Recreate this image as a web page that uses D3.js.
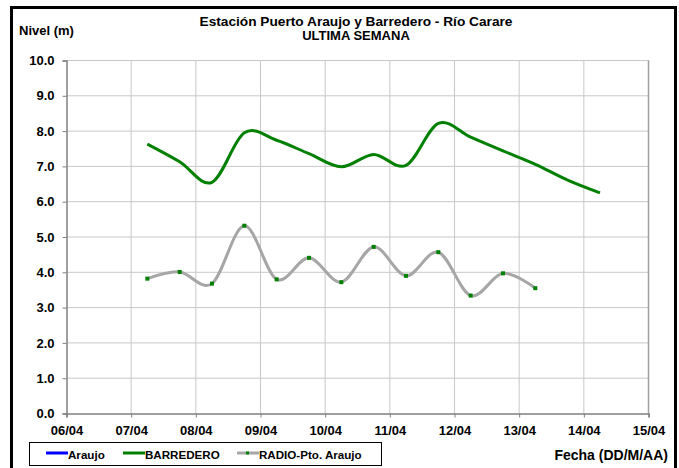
<!DOCTYPE html>
<html><head><meta charset="utf-8">
<script src="https://cdn.jsdelivr.net/npm/d3@7"></script>
<style>body{margin:0;background:#fff}svg{display:block}text{font-family:"Liberation Sans",Arial,sans-serif;font-weight:bold;fill:#000}</style>
</head><body>
<script>
const title1 = "Estación Puerto Araujo y Barredero - Río Carare";
const title2 = "ULTIMA SEMANA";
const yLabel = "Nivel (m)";
const xLabel = "Fecha (DD/M/AA)";
const tickLabels = ["06/04","07/04","08/04","09/04","10/04","11/04","12/04","13/04","14/04","15/04"];
const yTicks = [0,1,2,3,4,5,6,7,8,9,10];
const seriesNames = ["Araujo","BARREDERO","RADIO-Pto. Araujo"];
// times: day of April + hour
const barrederoTimes = ["07 06","07 18","08 06","08 18","09 06","09 18","10 06","10 18","11 06","11 18","12 06","12 18","13 06","13 18","14 06"];
const barrederoValues = [7.63,7.13,6.55,7.95,7.74,7.36,6.99,7.34,7.03,8.22,7.83,7.44,7.06,6.61,6.25];
const radioTimes = ["07 06","07 18","08 06","08 18","09 06","09 18","10 06","10 18","11 06","11 18","12 06","12 18","13 06"];
const radioValues = [3.82,4.01,3.68,5.32,3.80,4.41,3.72,4.72,3.90,4.57,3.34,3.97,3.55];
const araujoTimes = [];
const araujoValues = [];

const W=679,H=468;
const svg=d3.select("body").append("svg").attr("width",W).attr("height",H);
const toT = s => { const [d,h]=s.split(" ").map(Number); return d + h/24; };
const toTick = s => +s.split("/")[0];

const x=d3.scaleLinear().domain([6,15]).range([66.5,648.5]);
const y=d3.scaleLinear().domain([0,10]).range([413.5,60.5]);

// outer frame
svg.append("rect").attr("x",11.5).attr("y",7.5).attr("width",664).attr("height",470)
  .attr("fill","none").attr("stroke","#000").attr("stroke-width",3);

// grid
const g=svg.append("g");
g.selectAll(".hg").data(yTicks.slice(1)).join("line")
  .attr("x1",x(6)).attr("x2",x(15)).attr("y1",d=>y(d)).attr("y2",d=>y(d))
  .attr("stroke","#c8c8c8").attr("stroke-width",1);
g.selectAll(".vg").data(tickLabels.slice(1)).join("line")
  .attr("x1",d=>x(toTick(d))).attr("x2",d=>x(toTick(d))).attr("y1",y(0)).attr("y2",y(10))
  .attr("stroke","#c8c8c8").attr("stroke-width",1);
g.append("line").attr("x1",x(15)).attr("x2",x(15)).attr("y1",y(0)).attr("y2",y(10)).attr("stroke","#a0a0a0").attr("stroke-width",1.5);

// axes
const yAxis=d3.axisLeft(y).tickValues(yTicks).tickSize(4).tickPadding(8).tickFormat(d3.format(".1f"));
const ya=svg.append("g").attr("transform",`translate(${x(6)},0)`).call(yAxis);
ya.select(".domain").attr("stroke","#808080").attr("stroke-width",1.5);
ya.selectAll(".tick line").attr("stroke","#808080");
ya.selectAll("text").style("font-size","13px").attr("fill","#000");

const xAxis=d3.axisBottom(x).tickValues(tickLabels.map(toTick)).tickSize(4).tickPadding(8)
  .tickFormat((d,i)=>tickLabels[i]);
const xa=svg.append("g").attr("transform",`translate(0,${y(0)})`).call(xAxis);
xa.select(".domain").attr("stroke","#808080").attr("stroke-width",1.5);
xa.selectAll(".tick line").attr("stroke","#808080");
xa.selectAll("text").style("font-size","13px").attr("fill","#000");

// lines
const curve=d3.curveCardinal.tension(0);
const line=d3.line().x(d=>x(toT(d[0]))).y(d=>y(d[1])).curve(curve);
const bData=d3.zip(barrederoTimes,barrederoValues);
const rData=d3.zip(radioTimes,radioValues);
svg.append("path").attr("d",line(rData)).attr("fill","none").attr("stroke","#a6a6a6").attr("stroke-width",3);
svg.selectAll(".rp").data(rData).join("rect")
  .attr("x",d=>x(toT(d[0]))-2).attr("y",d=>y(d[1])-2).attr("width",4).attr("height",4).attr("fill","#008000");
svg.append("path").attr("d",line(bData)).attr("fill","none").attr("stroke","#008000").attr("stroke-width",3);
if(araujoValues.length){
  svg.append("path").attr("d",line(d3.zip(araujoTimes,araujoValues))).attr("fill","none").attr("stroke","#0000ff").attr("stroke-width",3);
}

// titles
svg.append("text").attr("x",356).attr("y",26).attr("text-anchor","middle").style("font-size","13px")
  .attr("textLength",313).attr("lengthAdjust","spacingAndGlyphs").text(title1);
svg.append("text").attr("x",356).attr("y",40).attr("text-anchor","middle").style("font-size","13px").text(title2);
svg.append("text").attr("x",19).attr("y",35).style("font-size","13px").text(yLabel);
svg.append("text").attr("x",668).attr("y",460).attr("text-anchor","end").style("font-size","14px").text(xLabel);

// legend
svg.append("rect").attr("x",29.5).attr("y",442.5).attr("width",352).attr("height",23).attr("fill","#fff").attr("stroke","#000").attr("stroke-width",1);
const legX=[46,123,237];
const legC=["#0000ff","#008000","#a6a6a6"];
seriesNames.forEach((n,i)=>{
  svg.append("line").attr("x1",legX[i]).attr("x2",legX[i]+22).attr("y1",453).attr("y2",453).attr("stroke",legC[i]).attr("stroke-width",3);
  if(i===2) svg.append("rect").attr("x",legX[i]+9).attr("y",451.5).attr("width",3).attr("height",3).attr("fill","#008000");
  svg.append("text").attr("x",legX[i]+22).attr("y",458.5).style("font-size","11.6px").text(n);
});
</script>
</body></html>
